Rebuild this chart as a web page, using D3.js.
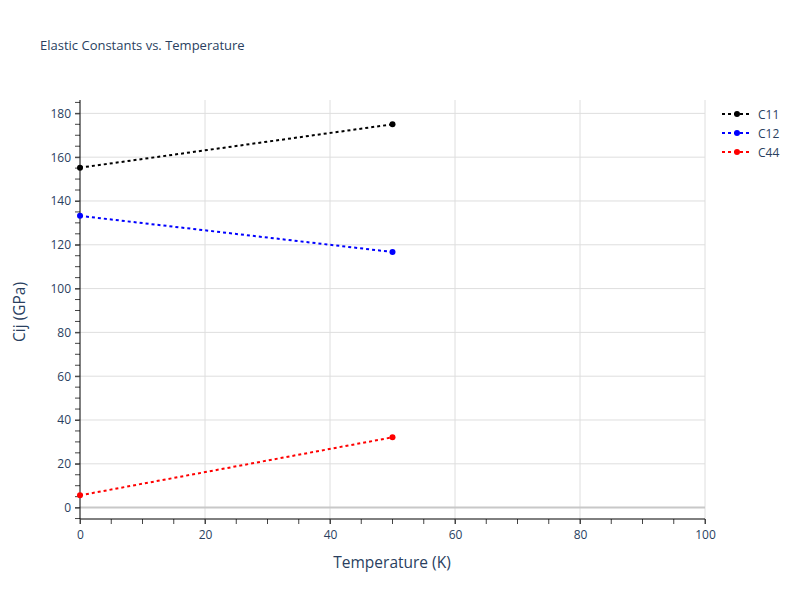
<!DOCTYPE html>
<html><head><meta charset="utf-8">
<script src="https://cdn.jsdelivr.net/npm/d3@7/dist/d3.min.js"></script>
<style>body{margin:0;background:#fff;} svg{display:block;}</style>
</head><body><svg id="chart" width="800" height="600"></svg>
<script>
const temperatures = [0, 50];
const seriesNames = ["C11", "C12", "C44"];
const c11 = [155.2, 175.0];
const c12 = [133.2, 116.7];
const c44 = [5.6, 32.1];
const seriesColors = ["#000000", "#0000ff", "#ff0000"];
const xTicks = [0, 20, 40, 60, 80, 100];
const yTicks = [0, 20, 40, 60, 80, 100, 120, 140, 160, 180];

const seriesValues = [c11, c12, c44];
const svg = d3.select("#chart");
const font = "'Open Sans', verdana, arial, sans-serif";
const textColor = "#2a3f5f";
const L = 80, R = 705, T = 100, B = 519;

const x = d3.scaleLinear().domain([0, 100]).range([L, R]);
const y = d3.scaleLinear().domain([-5.2, 186.1]).range([B, T]);

// grid
const g = svg.append("g");
g.selectAll(".vg").data(xTicks.filter(d => d > 0)).enter().append("line")
  .attr("x1", d => x(d)).attr("x2", d => x(d)).attr("y1", T).attr("y2", B)
  .attr("stroke", "#dedede").attr("stroke-width", 1);
g.selectAll(".hg").data(yTicks).enter().append("line")
  .attr("x1", L).attr("x2", R).attr("y1", d => y(d)).attr("y2", d => y(d))
  .attr("stroke", d => d === 0 ? "#c8c8c8" : "#dedede").attr("stroke-width", d => d === 0 ? 2 : 1);

// minor ticks
const xMinor = d3.range(0, 101, 5);
const yMinor = d3.range(-5, 186, 5);
svg.append("g").selectAll("line").data(xMinor).enter().append("line")
  .attr("x1", d => x(d)).attr("x2", d => x(d)).attr("y1", B).attr("y2", B + 5)
  .attr("stroke", "#444").attr("stroke-width", 1);
svg.append("g").selectAll("line").data(yMinor).enter().append("line")
  .attr("x1", L - 5).attr("x2", L).attr("y1", d => y(d)).attr("y2", d => y(d))
  .attr("stroke", "#444").attr("stroke-width", 1);

// axes
const xAxis = d3.axisBottom(x).tickValues(xTicks).tickSize(5).tickPadding(6);
const yAxis = d3.axisLeft(y).tickValues(yTicks).tickSize(5).tickPadding(4);
const xa = svg.append("g").attr("transform", `translate(0,${B})`).call(xAxis);
const ya = svg.append("g").attr("transform", `translate(${L},0)`).call(yAxis);
[xa, ya].forEach(a => {
  a.select(".domain").attr("stroke", "#000").attr("stroke-width", 1);
  a.selectAll(".tick line").attr("stroke", "#444");
  a.selectAll("text").attr("font-family", font).attr("font-size", 12).attr("fill", textColor);
});
ya.select(".domain").attr("d", `M0,${B}V${T}`);
xa.select(".domain").attr("d", `M${L},0H${R}`);

// series
const line = d3.line().x((d, i) => x(temperatures[i])).y(d => y(d));
seriesValues.forEach((vals, si) => {
  svg.append("path").datum(vals).attr("d", line)
    .attr("fill", "none").attr("stroke", seriesColors[si]).attr("stroke-width", 2)
    .attr("stroke-dasharray", "3,3");
  svg.append("g").selectAll("circle").data(vals).enter().append("circle")
    .attr("cx", (d, i) => x(temperatures[i])).attr("cy", d => y(d)).attr("r", 3)
    .attr("fill", seriesColors[si]);
});

// legend
const lg = svg.append("g").attr("transform", "translate(722,114)");
seriesNames.forEach((name, i) => {
  const row = lg.append("g").attr("transform", `translate(0,${i * 19})`);
  row.append("line").attr("x1", 0).attr("x2", 30).attr("y1", 0).attr("y2", 0)
    .attr("stroke", seriesColors[i]).attr("stroke-width", 2).attr("stroke-dasharray", "3,3");
  row.append("circle").attr("cx", 15).attr("cy", 0).attr("r", 3).attr("fill", seriesColors[i]);
  row.append("text").attr("x", 36).attr("y", 4.5).text(name)
    .attr("font-family", font).attr("font-size", 12).attr("fill", textColor);
});

// titles
svg.append("text").attr("x", 40).attr("y", 50).text("Elastic Constants vs. Temperature")
  .attr("font-family", font).attr("font-size", 13).attr("fill", textColor);
svg.append("text").attr("x", 392).attr("y", 568).attr("text-anchor", "middle")
  .text("Temperature (K)").attr("font-family", font).attr("font-size", 15.5).attr("fill", textColor);
svg.append("text").attr("transform", `translate(25,312) rotate(-90)`).attr("text-anchor", "middle")
  .text("Cij (GPa)").attr("font-family", font).attr("font-size", 15.5).attr("fill", textColor);
</script></body></html>
